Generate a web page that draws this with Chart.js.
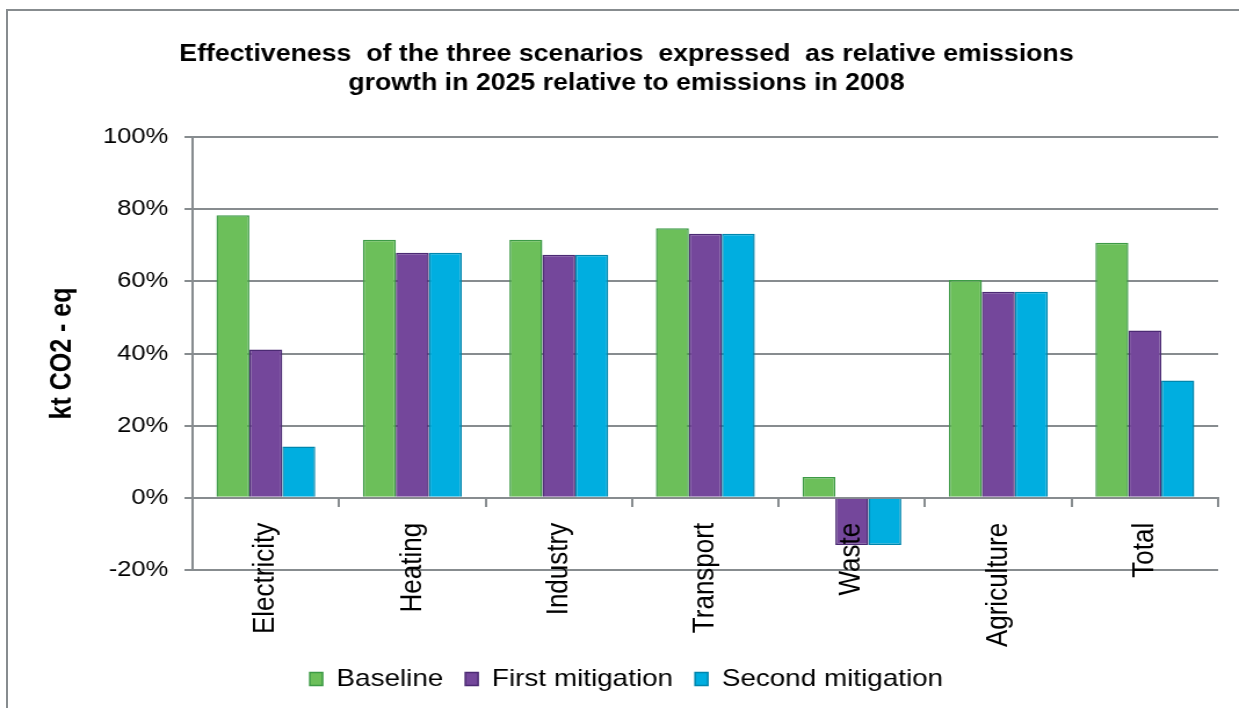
<!DOCTYPE html>
<html>
<head>
<meta charset="utf-8">
<script src="https://cdn.jsdelivr.net/npm/chart.js@4.4.1/dist/chart.umd.min.js"></script>
<style>
  html, body { margin: 0; padding: 0; background: #fff; overflow: hidden; }
  #frame { position: absolute; left: 6px; top: 9px; width: 1260px; height: 720px; border: 2px solid #878c8f; }
  #chart { position: absolute; left: 0; top: 0; }
</style>
</head>
<body>
<div id="frame"></div>
<!-- drawn 1068 wide and stretched to 1239, like the wide fonts in the original -->
<canvas id="chart" width="1068" height="708" style="width:1239px;height:708px"></canvas>
<script>
// sectors on the x axis
const categories = ['Electricity', 'Heating', 'Industry', 'Transport', 'Waste', 'Agriculture', 'Total'];
// relative growth 2025 vs 2008, in %
const baseline = [78.3, 71.5, 71.5, 74.7, 5.8, 60.4, 70.7];
const firstMitigation = [41.1, 67.9, 67.4, 73.2, -13.1, 57.1, 46.4];
const secondMitigation = [14.2, 67.9, 67.4, 73.2, -13.1, 57.1, 32.5];
const yTicks = [-20, 0, 20, 40, 60, 80, 100];

const gridColor = '#878c8f';
const font = 'Liberation Sans, Arial, sans-serif';

const ctx = document.getElementById('chart');
const chart = new Chart(ctx, {
  type: 'bar',
  data: {
    labels: categories,
    datasets: [{
      label: 'Baseline',
      data: baseline,
      backgroundColor: '#6cbf5a',
      borderColor: '#3d9a46',
      borderWidth: 1.5
    }, {
      label: 'First mitigation',
      data: firstMitigation,
      backgroundColor: '#74479b',
      borderColor: '#4b2a73',
      borderWidth: 1.5
    }, {
      label: 'Second mitigation',
      data: secondMitigation,
      backgroundColor: '#00aee0',
      borderColor: '#0086ad',
      borderWidth: 1.5
    }]
  },
  options: {
    responsive: false,
    animation: false,
    devicePixelRatio: 1,
    categoryPercentage: 0.675,
    barPercentage: 1,
    layout: { padding: { left: 30, right: 18, top: 0, bottom: 7 } },
    plugins: {
      title: {
        display: true,
        text: ['Effectiveness  of the three scenarios  expressed  as relative emissions',
               'growth in 2025 relative to emissions in 2008'],
        color: '#000',
        font: { family: font, size: 23, weight: 'bold', lineHeight: '29px' },
        padding: { top: 40, bottom: 39 }
      },
      legend: {
        position: 'bottom',
        labels: {
          color: '#000',
          font: { family: font, size: 24 },
          boxWidth: 11,
          boxHeight: 13,
          padding: 19
        }
      },
      tooltip: { enabled: false }
    },
    scales: {
      x: {
        position: { y: 0 },
        offset: true,
        grid: { offset: true, drawOnChartArea: false, drawTicks: true, tickLength: 8, color: gridColor, lineWidth: 2 },
        border: { color: gridColor, width: 2 },
        ticks: {
          z: 1,
          color: '#000',
          font: { family: font, size: 26 },
          minRotation: 90,
          maxRotation: 90,
          autoSkip: false,
          padding: 17
        }
      },
      xGap: {
        type: 'category',
        position: 'bottom',
        grid: { display: false },
        border: { display: false },
        ticks: { display: false },
        afterFit: (scale) => { scale.height = 78; }
      },
      y: {
        min: yTicks[0],
        max: yTicks[yTicks.length - 1],
        afterBuildTicks: (scale) => { scale.ticks = yTicks.map(v => ({ value: v })); },
        afterFit: (scale) => { scale.width = 136; },
        grid: { color: gridColor, lineWidth: 2, tickLength: 7 },
        border: { color: gridColor, width: 2 },
        ticks: {
          color: '#000',
          font: { family: font, size: 22 },
          padding: 14,
          callback: (v) => v + '%'
        },
        title: {
          display: true,
          text: 'kt CO2 - eq',
          color: '#000',
          font: { family: font, size: 25, weight: 'bold' },
          padding: { top: 9, bottom: 0 }
        }
      }
    }
  }
});
</script>
</body>
</html>
